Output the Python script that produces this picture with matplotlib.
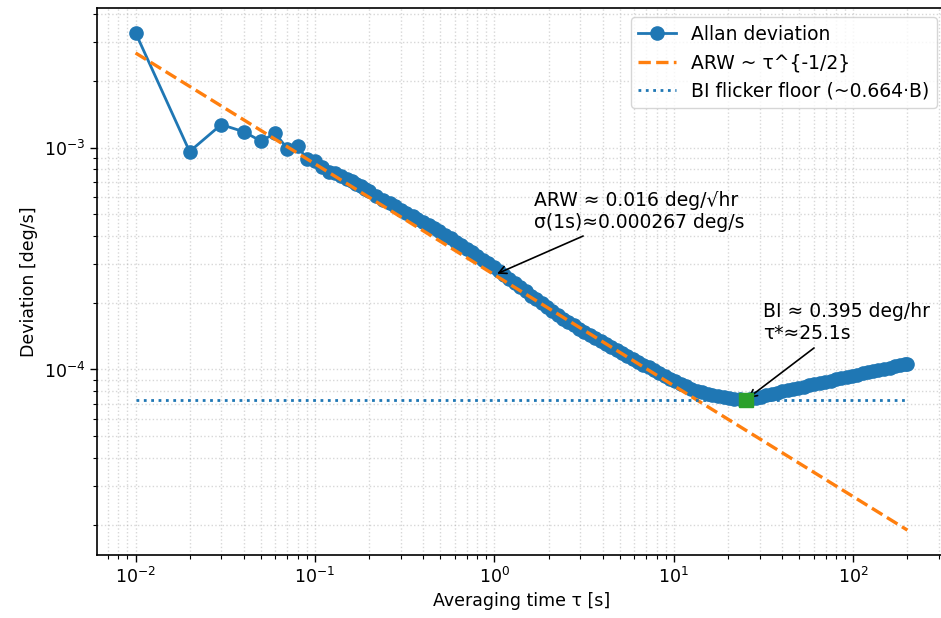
import matplotlib
matplotlib.use("Agg")
import matplotlib.pyplot as plt
import numpy as np

# ---- data ----
tau = [0.01, 0.02, 0.03, 0.04, 0.05, 0.06, 0.07, 0.08, 0.09, 0.10,
       0.11, 0.12, 0.13, 0.14, 0.15, 0.16, 0.17, 0.18, 0.19, 0.20,
       0.22, 0.24, 0.26, 0.28, 0.30, 0.32, 0.35, 0.37, 0.40, 0.43,
       0.46, 0.49, 0.53, 0.57, 0.61, 0.65, 0.70, 0.75, 0.80, 0.86,
       0.92, 0.99, 1.06, 1.13, 1.21, 1.30, 1.39, 1.49, 1.60, 1.71,
       1.83, 1.96, 2.10, 2.25, 2.41, 2.58, 2.77, 2.96, 3.17, 3.40,
       3.64, 3.90, 4.17, 4.47, 4.79, 5.13, 5.49, 5.88, 6.30, 6.75,
       7.23, 7.74, 8.29, 8.88, 9.51, 10.2, 10.9, 11.7, 12.5, 13.4,
       14.3, 15.4, 16.4, 17.6, 18.9, 20.2, 21.6, 23.2, 25.1, 26.6,
       28.5, 30.5, 32.7, 35.0, 37.5, 40.2, 43.0, 46.1, 49.4, 52.9,
       56.6, 60.7, 65.0, 69.6, 74.6, 79.9, 85.6, 91.6, 98.2, 105,
       113, 121, 129, 138, 148, 159, 170, 182, 195, 200]

adev = [3.29e-3, 9.6e-4, 1.27e-3, 1.18e-3, 1.07e-3, 1.16e-3, 9.9e-4, 1.02e-3, 8.85e-4, 8.7e-4,
        8.2e-4, 7.8e-4, 7.72e-4, 7.45e-4, 7.2e-4, 7.08e-4, 6.88e-4, 6.68e-4, 6.52e-4, 6.37e-4,
        6.08e-4, 5.83e-4, 5.62e-4, 5.43e-4, 5.26e-4, 5.10e-4, 4.90e-4, 4.78e-4, 4.61e-4, 4.47e-4,
        4.33e-4, 4.21e-4, 4.05e-4, 3.90e-4, 3.76e-4, 3.64e-4, 3.50e-4, 3.37e-4, 3.26e-4, 3.13e-4,
        3.02e-4, 2.90e-4, 2.78e-4, 2.67e-4, 2.56e-4, 2.45e-4, 2.35e-4, 2.25e-4, 2.15e-4, 2.07e-4,
        1.99e-4, 1.91e-4, 1.83e-4, 1.76e-4, 1.69e-4, 1.63e-4, 1.58e-4, 1.53e-4, 1.48e-4, 1.435e-4,
        1.39e-4, 1.345e-4, 1.305e-4, 1.265e-4, 1.225e-4, 1.19e-4, 1.15e-4, 1.117e-4, 1.081e-4, 1.051e-4,
        1.021e-4, 9.93e-5, 9.64e-5, 9.37e-5, 9.10e-5, 8.85e-5, 8.63e-5, 8.40e-5, 8.18e-5, 8.04e-5,
        7.91e-5, 7.76e-5, 7.67e-5, 7.59e-5, 7.52e-5, 7.44e-5, 7.40e-5, 7.35e-5, 7.29e-5, 7.37e-5,
        7.45e-5, 7.54e-5, 7.64e-5, 7.74e-5, 7.85e-5, 7.96e-5, 8.06e-5, 8.17e-5, 8.26e-5, 8.37e-5,
        8.48e-5, 8.59e-5, 8.69e-5, 8.81e-5, 8.91e-5, 9.03e-5, 9.14e-5, 9.25e-5, 9.37e-5, 9.48e-5,
        9.60e-5, 9.72e-5, 9.82e-5, 9.94e-5, 1.007e-4, 1.019e-4, 1.032e-4, 1.045e-4, 1.059e-4, 1.064e-4]

sigma_1s = 0.000267      # deg/s, ARW fit at tau = 1 s
arw_value = 0.016        # deg/sqrt(hr)
bi_value = 0.395         # deg/hr
tau_star = 25.1          # s
sigma_min = 7.29e-5      # deg/s (minimum of Allan deviation)

labels = ["Allan deviation", "ARW ~ τ^{-1/2}", "BI flicker floor (~0.664·B)"]

# ---- figure ----
W, H = 941, 618
fig = plt.figure(figsize=(W / 100, H / 100), dpi=100)
ax = fig.add_axes([97 / W, (H - 555) / H, 849 / W, 547 / H])

tau_arr = np.array(tau)
adev_arr = np.array(adev)
tau_ends = np.array([tau_arr[0], tau_arr[-1]])

ax.loglog(tau_arr, adev_arr, 'o-', color='tab:blue', lw=2.0, ms=9.5, label=labels[0])
ax.loglog(tau_ends, sigma_1s * tau_ends ** -0.5, '--', color='tab:orange', lw=2.4, label=labels[1])
ax.loglog(tau_ends, [sigma_min, sigma_min], ':', color='tab:blue', lw=2.0, label=labels[2])
ax.loglog([tau_star], [sigma_min], 's', color='tab:green', ms=10.5, zorder=5)

ax.grid(True, which='both', ls=':', lw=1.0, color='#b0b0b0', alpha=0.5)

ax.annotate(f"ARW ≈ {arw_value:.3f} deg/√hr\nσ(1s)≈{sigma_1s:.6f} deg/s",
            xy=(1.0, sigma_1s), xytext=(1.65, 4.16e-4), textcoords='data',
            ha='left', va='bottom', fontsize=13.5,
            arrowprops=dict(arrowstyle='->', color='black', lw=1.2))
ax.annotate(f"BI ≈ {bi_value:.3f} deg/hr\nτ*≈{tau_star:.1f}s",
            xy=(tau_star, sigma_min), xytext=(31.5, 1.31e-4), textcoords='data',
            ha='left', va='bottom', fontsize=13.5,
            arrowprops=dict(arrowstyle='->', color='black', lw=1.2))

ax.set_xlabel("Averaging time τ [s]", fontsize=12.5)
ax.set_ylabel("Deviation [deg/s]", fontsize=12.5)
ax.tick_params(which='major', labelsize=12.5, length=5, width=1.0)
ax.tick_params(which='minor', length=3, width=0.8)
for s in ax.spines.values():
    s.set_linewidth(1.2)

ax.legend(loc='upper right', fontsize=13.5, framealpha=0.8)

fig.savefig("out.png", dpi=100)
